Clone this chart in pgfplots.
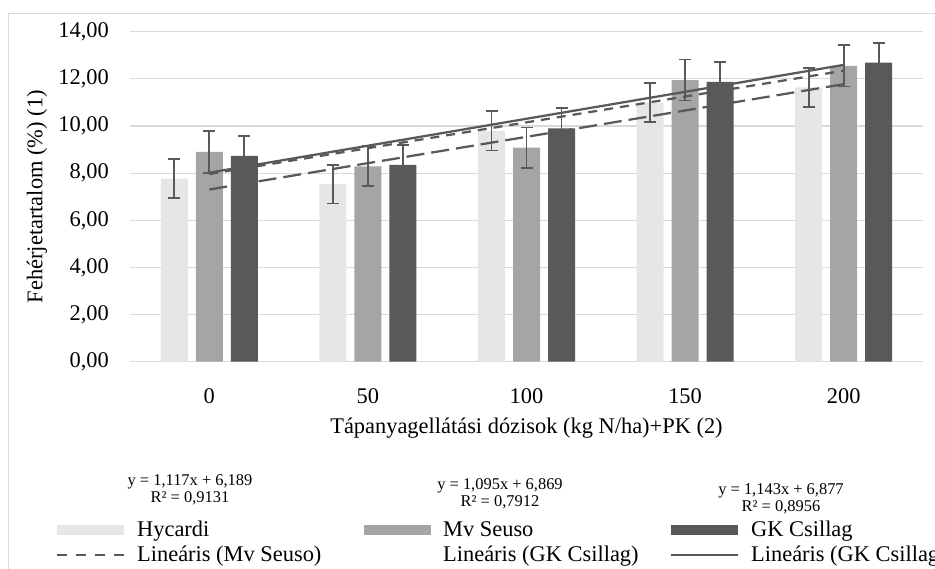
\documentclass[border=0pt]{standalone}
\usepackage{pgfplots}
\pgfplotsset{compat=1.18}
\usepackage{pgfplotstable}
\usepackage{fontspec}
\setmainfont{Liberation Serif}
\definecolor{cH}{HTML}{E6E6E6}
\definecolor{cM}{HTML}{A5A5A5}
\definecolor{cG}{HTML}{595959}
\definecolor{gridc}{HTML}{D9D9D9}
\pgfplotstableread{
x H He M Me G Ge
0 7.77 0.82 8.90 0.88 8.73 0.86
1 7.53 0.82 8.29 0.85 8.35 0.84
2 9.79 0.83 9.08 0.86 9.90 0.86
3 10.99 0.82 11.95 0.87 11.87 0.85
4 11.64 0.83 12.55 0.87 12.69 0.84
}\data
\begin{document}
\begin{tikzpicture}
\useasboundingbox (0,0) rectangle (935bp,569bp);
\draw[gridc, line width=1bp] (8bp,0bp) -- (8bp,555bp) -- (935bp,555bp);
\begin{axis}[
  at={(130bp,207.3bp)}, anchor=south west,
  scale only axis, width=793bp, height=330bp,
  ybar=8bp, bar width=27bp,
  xmin=-0.5, xmax=4.5, ymin=0, ymax=14,
  xtick={0,1,2,3,4}, xticklabels={0,50,100,150,200},
  ytick={0,2,4,6,8,10,12,14},
  ymajorgrids, grid style={gridc, line width=1.25bp},
  axis line style={draw=none},
  major tick style={draw=none},
  font=\fontsize{22.5}{27}\selectfont,
  yticklabel style={/pgf/number format/fixed, /pgf/number format/fixed zerofill,
    /pgf/number format/precision=2, /pgf/number format/use comma,
    /pgf/number format/assume math mode=true,
    anchor=east, inner sep=0pt, xshift=-21bp},
  xticklabel style={anchor=north, inner sep=0pt, yshift=-22bp},
  xlabel={Tápanyagellátási dózisok (kg N/ha)+PK (2)},
  xlabel style={at={(axis description cs:0.5,-0.2)}, anchor=center},
  ylabel={Fehérjetartalom (\%) (1)},
  ylabel style={at={(axis description cs:-0.1173,0.5)}, anchor=center},
  legend columns=3,
  legend cell align=left,
  legend style={at={(axis description cs:-0.0933,-0.4767)}, anchor=north west,
    draw=none, fill=none, inner sep=0pt, column sep=10bp, row sep=4bp,
    font=\fontsize{22.5}{27}\selectfont},
  error bars/error bar style={cG, line width=1.75bp},
  error bars/error mark options={cG, line width=1.75bp, rotate=90, mark size=6bp},
]
\addplot[fill=cH, draw=none,
  legend image code/.code={\fill[cH] (0bp,-5bp) rectangle (67bp,5bp);},
  error bars/.cd, y dir=both, y explicit]
  table[x=x, y=H, y error=He] {\data};
\addlegendentry{\makebox[215bp][l]{Hycardi}}
\addplot[fill=cM, draw=none,
  legend image code/.code={\fill[cM] (0bp,-5bp) rectangle (67bp,5bp);},
  error bars/.cd, y dir=both, y explicit]
  table[x=x, y=M, y error=Me] {\data};
\addlegendentry{\makebox[215bp][l]{Mv Seuso}}
\addplot[fill=cG, draw=none,
  legend image code/.code={\fill[cG] (0bp,-5bp) rectangle (67bp,5bp);},
  error bars/.cd, y dir=both, y explicit]
  table[x=x, y=G, y error=Ge] {\data};
\addlegendentry{\makebox[215bp][l]{GK Csillag}}
% trendlines
\addplot[sharp plot, cG, line width=2.25bp, dash pattern=on 18bp off 7bp, forget plot]
  coordinates {(0,7.306) (4,11.774)};
\addplot[sharp plot, cG, line width=2.25bp, dash pattern=on 9bp off 7bp,
  legend image code/.code={\draw[cG, line width=2bp, dash pattern=on 10bp off 9bp] (0bp,0bp) -- (67bp,0bp);}]
  coordinates {(0,7.964) (4,12.344)};
\addlegendentry{\makebox[215bp][l]{Lineáris (Mv Seuso)}}
\addplot[sharp plot, draw=none, mark=none,
  legend image code/.code={\path (0bp,0bp) -- (67bp,0bp);}]
  coordinates {(0,7.306) (4,11.774)};
\addlegendentry{\makebox[215bp][l]{Lineáris (GK Csillag)}}
\addplot[sharp plot, cG, line width=2.25bp,
  legend image code/.code={\draw[cG, line width=2bp] (0bp,0bp) -- (67bp,0bp);}]
  coordinates {(0,8.02) (4,12.592)};
\addlegendentry{\makebox[200bp][l]{Lineáris (GK Csillag}}
\end{axis}
\node[font=\fontsize{16.5}{17}\selectfont, align=center, inner sep=0pt] at (190bp,79.5bp) {y = 1,117x + 6,189\\R² = 0,9131};
\node[font=\fontsize{16.5}{17}\selectfont, align=center, inner sep=0pt] at (500bp,75.5bp) {y = 1,095x + 6,869\\R² = 0,7912};
\node[font=\fontsize{16.5}{17}\selectfont, align=center, inner sep=0pt] at (781bp,70.5bp) {y = 1,143x + 6,877\\R² = 0,8956};
\end{tikzpicture}
\end{document}
